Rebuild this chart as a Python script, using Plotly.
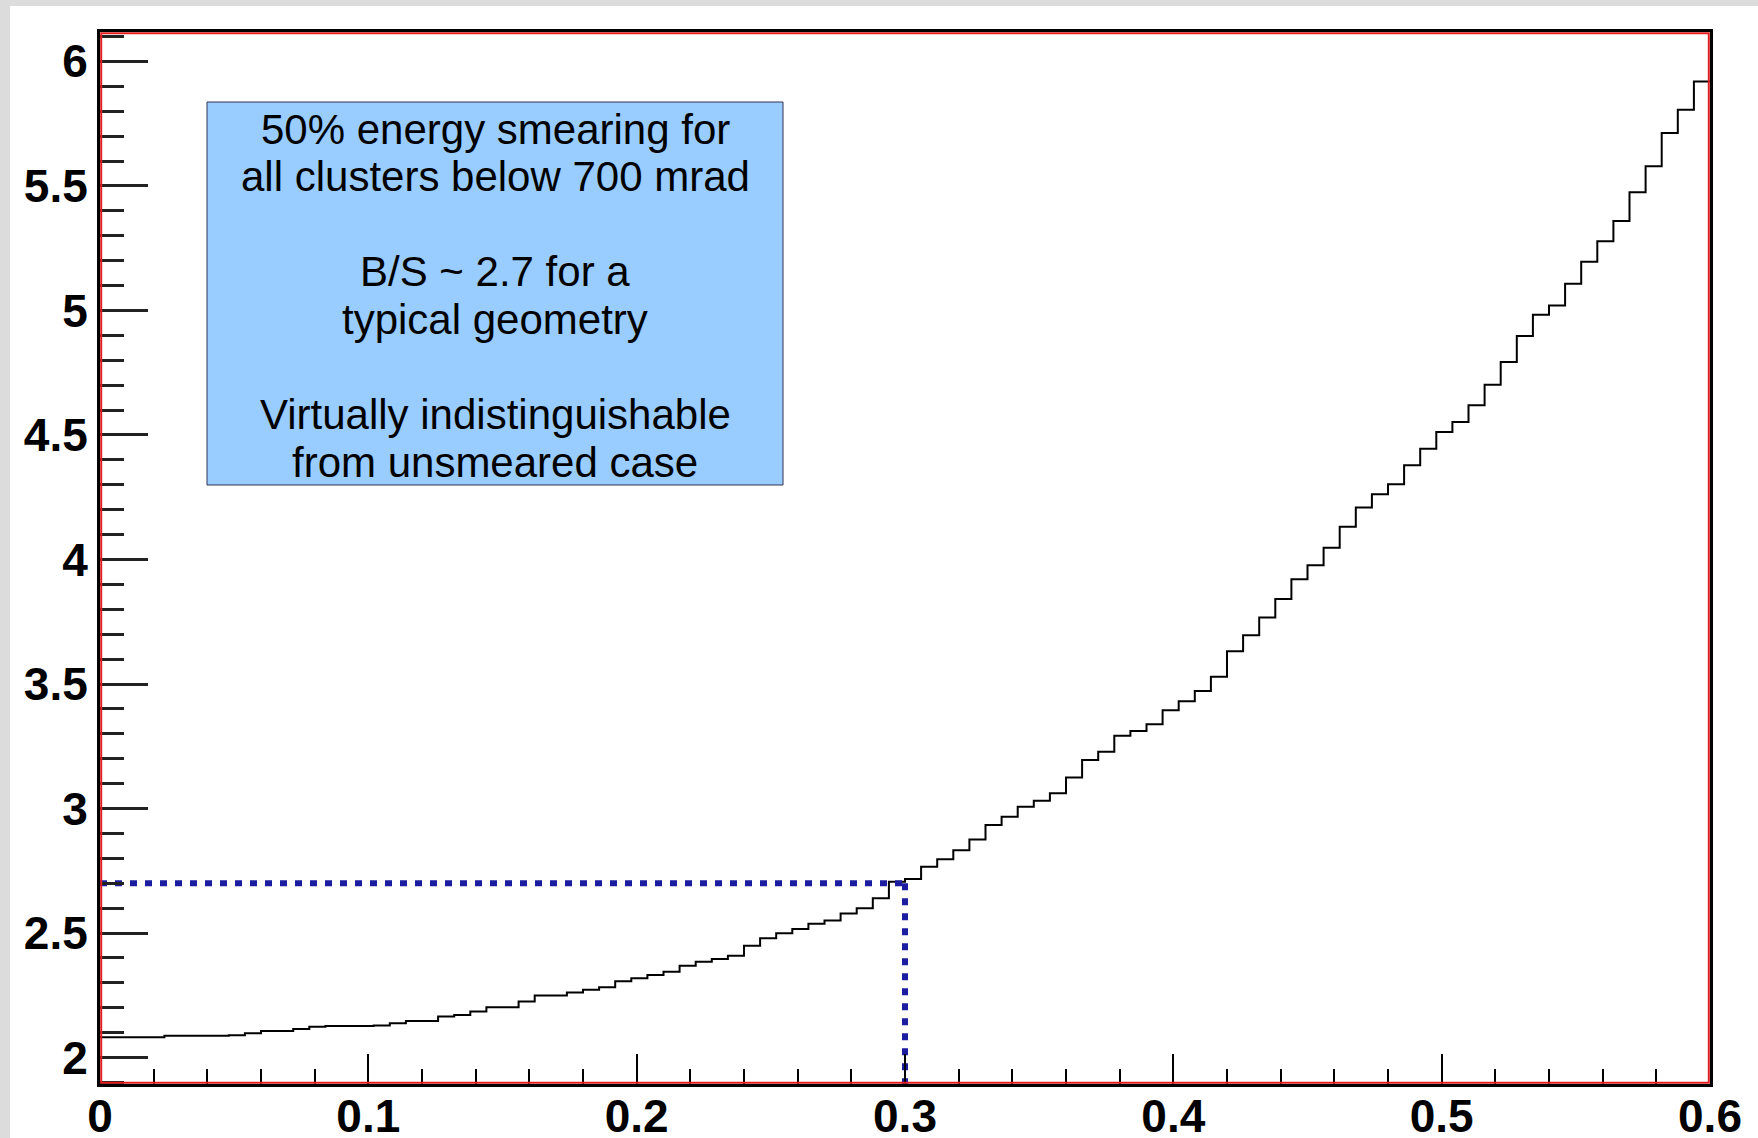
import plotly.graph_objects as go

# ---------------- data ----------------
bin_width = 0.006
bin_values = [
    2.082, 2.082, 2.082, 2.082, 2.088, 2.088, 2.088, 2.088, 2.090, 2.098,
    2.107, 2.107, 2.115, 2.124, 2.127, 2.127, 2.127, 2.129, 2.138, 2.147,
    2.147, 2.165, 2.171, 2.185, 2.202, 2.202, 2.225, 2.249, 2.249, 2.261,
    2.272, 2.282, 2.307, 2.319, 2.332, 2.345, 2.369, 2.385, 2.396, 2.409,
    2.449, 2.479, 2.499, 2.516, 2.537, 2.550, 2.579, 2.600, 2.640, 2.706,
    2.717, 2.766, 2.796, 2.833, 2.876, 2.934, 2.967, 3.007, 3.031, 3.061,
    3.125, 3.195, 3.228, 3.292, 3.311, 3.338, 3.395, 3.431, 3.472, 3.529,
    3.632, 3.696, 3.767, 3.841, 3.921, 3.977, 4.047, 4.131, 4.209, 4.262,
    4.302, 4.378, 4.445, 4.512, 4.552, 4.619, 4.702, 4.793, 4.897, 4.983,
    5.020, 5.107, 5.196, 5.278, 5.359, 5.475, 5.579, 5.712, 5.806, 5.919,
]
x_range = [0.0, 0.6]
y_range = [1.894, 6.118]
thresh_x = 0.3
thresh_y = 2.7
box_lines = [
    "50% energy smearing for",
    "all clusters below 700 mrad",
    "",
    "B/S ~ 2.7 for a",
    "typical geometry",
    "",
    "Virtually indistinguishable",
    "from unsmeared case",
]

# ---------------- derived ----------------
x_edges = [round(i * bin_width, 6) for i in range(len(bin_values) + 1)]
y_steps = bin_values + [bin_values[-1]]

W, H = 1758, 1138
ML, MR, MT, MB = 100, 48, 32, 54
PW, PH = W - ML - MR, H - MT - MB


def px_x(p):
    return (p - ML) / PW


def px_y(p):
    return (H - MB - p) / PH


fig = go.Figure()

fig.add_trace(go.Scatter(
    x=x_edges, y=y_steps, mode="lines",
    line=dict(shape="hv", color="#000000", width=2),
    hoverinfo="skip", showlegend=False,
))

dot_color = "#1c1ca0"
fig.add_trace(go.Scatter(
    x=[x_range[0], thresh_x], y=[thresh_y, thresh_y], mode="lines",
    line=dict(color=dot_color, width=6, dash="7px,8px"),
    showlegend=False, hoverinfo="skip",
))
fig.add_trace(go.Scatter(
    x=[thresh_x, thresh_x], y=[thresh_y, y_range[0]], mode="lines",
    line=dict(color=dot_color, width=6, dash="7px,8px"),
    showlegend=False, hoverinfo="skip",
))

shapes = []
# white page area over gray background
shapes.append(dict(type="rect", xref="paper", yref="paper", layer="below",
                   x0=px_x(10), x1=px_x(W + 5), y0=px_y(H + 5), y1=px_y(6),
                   fillcolor="white", line=dict(width=0)))
# red frame inset
shapes.append(dict(type="rect", xref="paper", yref="paper", layer="above",
                   x0=1.2 / PW, x1=1 - 1.2 / PW, y0=1.2 / PH, y1=1 - 1.2 / PH,
                   line=dict(color="#e02020", width=2), fillcolor="rgba(0,0,0,0)"))
# text box
shapes.append(dict(type="rect", xref="paper", yref="paper", layer="above",
                   x0=px_x(207), x1=px_x(783), y0=px_y(485), y1=px_y(102),
                   fillcolor="#99ccff", line=dict(color="#333355", width=1)))

annotations = []
first_center = 129.0
line_step = 47.65
for i, t in enumerate(box_lines):
    if not t:
        continue
    annotations.append(dict(
        xref="paper", yref="paper", x=px_x(495), y=px_y(first_center + i * line_step),
        xanchor="center", yanchor="middle", text=t, showarrow=False,
        font=dict(family="Liberation Sans, Arial, sans-serif", size=42, color="black"),
    ))

tickfont = dict(family="Liberation Sans, Arial, sans-serif", size=46, color="black", weight="bold")

fig.update_layout(
    width=W, height=H, autosize=False,
    margin=dict(l=ML, r=MR, t=MT, b=MB, pad=0, autoexpand=False),
    paper_bgcolor="#dcdcdc", plot_bgcolor="white",
    shapes=shapes, annotations=annotations,
    showlegend=False,
    xaxis=dict(
        range=x_range, showgrid=False, zeroline=False, automargin=False,
        showline=True, linecolor="black", linewidth=3, mirror=True,
        ticks="inside", ticklen=30, tickwidth=2, tickcolor="black",
        tick0=0, dtick=0.1, tickfont=tickfont, ticklabelstandoff=-10,
        minor=dict(ticks="inside", dtick=0.02, ticklen=15, tickwidth=2, tickcolor="black"),
    ),
    yaxis=dict(
        range=y_range, showgrid=False, zeroline=False, automargin=False,
        showline=True, linecolor="black", linewidth=3, mirror=True,
        ticks="inside", ticklen=48, tickwidth=2.5, tickcolor="#222222",
        tick0=0, dtick=0.5, tickfont=tickfont,
        minor=dict(ticks="inside", dtick=0.1, ticklen=24, tickwidth=2.5, tickcolor="#222222"),
    ),
)

fig.write_html("out.html")
